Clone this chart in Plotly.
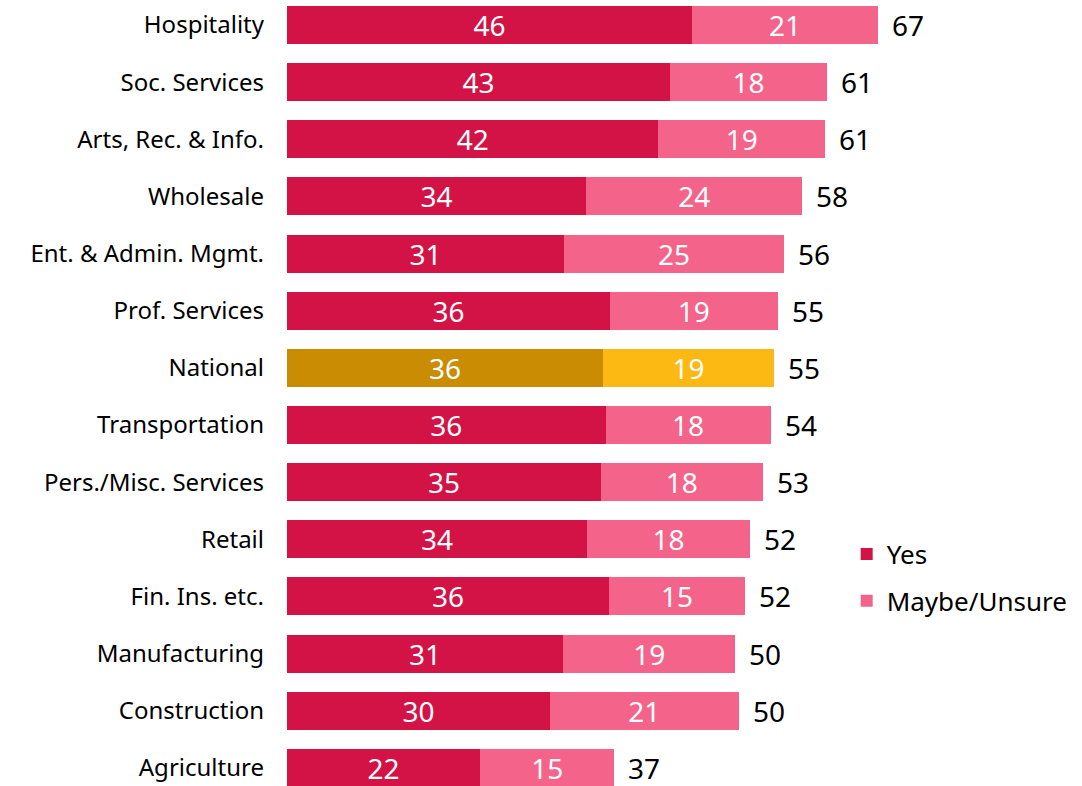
import plotly.graph_objects as go

categories = ["Hospitality", "Soc. Services", "Arts, Rec. & Info.", "Wholesale",
              "Ent. & Admin. Mgmt.", "Prof. Services", "National", "Transportation",
              "Pers./Misc. Services", "Retail", "Fin. Ins. etc.", "Manufacturing",
              "Construction", "Agriculture"]
yes_values = [45.9, 43.4, 42.1, 33.9, 31.4, 36.6, 35.8, 36.1, 35.6, 34.0, 36.5, 31.3, 29.8, 21.9]
maybe_values = [21.1, 17.8, 18.9, 24.5, 24.9, 19.0, 19.4, 18.7, 18.3, 18.5, 15.4, 19.5, 21.4, 15.2]
yes_labels = ["46", "43", "42", "34", "31", "36", "36", "36", "35", "34", "36", "31", "30", "22"]
maybe_labels = ["21", "18", "19", "24", "25", "19", "19", "18", "18", "18", "15", "19", "21", "15"]
total_labels = ["67", "61", "61", "58", "56", "55", "55", "54", "53", "52", "52", "50", "50", "37"]
highlight = "National"

YES_C, MAYBE_C = "#D31245", "#F4648A"
NAT_YES_C, NAT_MAYBE_C = "#C98C03", "#FDB913"
FONT = "Noto Sans"
FS_NUM = 28
FS_LEG = 26
FS_CAT = 24

yes_colors = [NAT_YES_C if c == highlight else YES_C for c in categories]
maybe_colors = [NAT_MAYBE_C if c == highlight else MAYBE_C for c in categories]

fig = go.Figure()
fig.add_trace(go.Bar(
    y=categories, x=yes_values, orientation="h", name="Yes",
    marker=dict(color=yes_colors, line=dict(width=0)),
    text=yes_labels, textposition="inside", insidetextanchor="middle",
    textangle=0, constraintext="none", cliponaxis=False,
    textfont=dict(color="white", size=FS_NUM, family=FONT),
    legendgroup="a", hoverinfo="skip"))
fig.add_trace(go.Bar(
    y=categories, x=maybe_values, orientation="h", name="Maybe/Unsure",
    marker=dict(color=maybe_colors, line=dict(width=0)),
    text=maybe_labels, textposition="inside", insidetextanchor="middle",
    textangle=0, constraintext="none", cliponaxis=False,
    textfont=dict(color="white", size=FS_NUM, family=FONT),
    legendgroup="b", hoverinfo="skip"))

totals = [a + b for a, b in zip(yes_values, maybe_values)]
for c, t, lab in zip(categories, totals, total_labels):
    fig.add_annotation(x=t, y=c, text=lab, showarrow=False, xanchor="left",
                       xshift=12, font=dict(size=FS_NUM, color="black", family=FONT))

fig.update_layout(
    width=1082, height=786,
    barmode="stack", bargap=0.335,
    margin=dict(l=287, r=0, t=0, b=0),
    plot_bgcolor="white", paper_bgcolor="white",
    font=dict(family=FONT, size=FS_NUM, color="black"),
    xaxis=dict(range=[0, 90.1], visible=False, fixedrange=True),
    yaxis=dict(range=[13.316, -0.437], showgrid=False, showline=False, zeroline=False,
               ticks="", ticklabelstandoff=22, tickfont=dict(size=FS_CAT, family=FONT),
               fixedrange=True),
    legend=dict(x=0.704, y=0.325, xanchor="left", yanchor="top",
                traceorder="grouped", tracegroupgap=10,
                font=dict(size=FS_LEG, family=FONT), bgcolor="rgba(0,0,0,0)"),
    showlegend=True,
)

fig.write_html("out.html", config={"displayModeBar": False},
               post_script="document.body.style.margin='0';")
